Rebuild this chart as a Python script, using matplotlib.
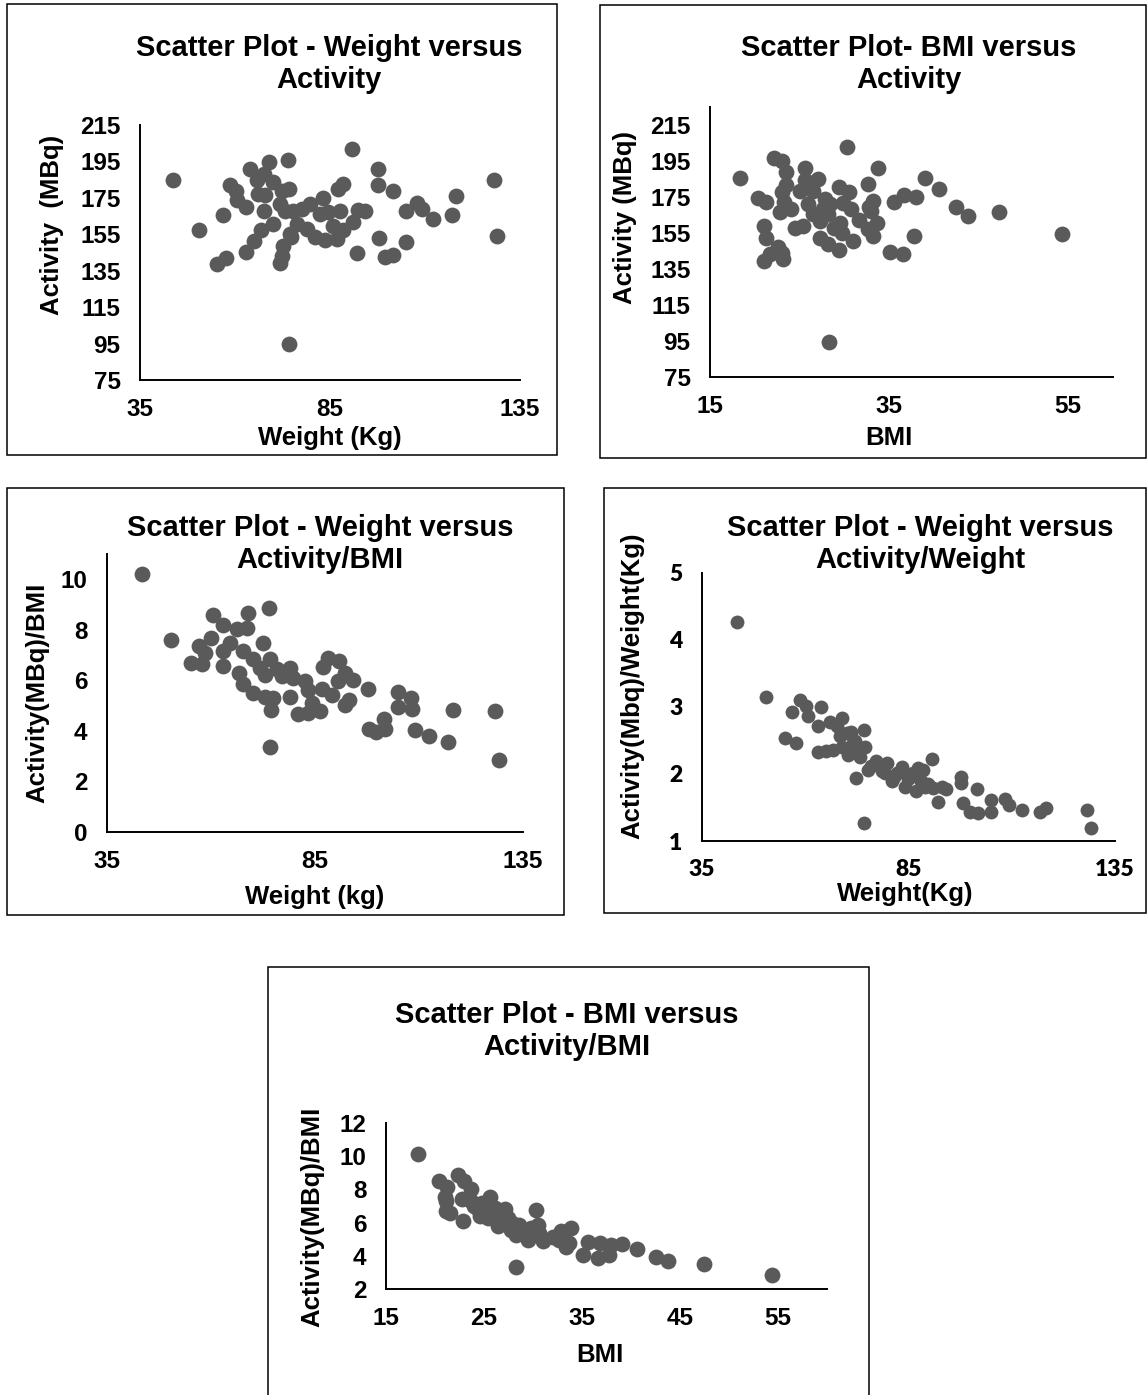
import numpy as np
import matplotlib.pyplot as plt
from matplotlib.patches import Rectangle

# panel 1: weight vs activity
weight_a = [43.6, 50.5, 55.2, 57.6, 56.9, 62.8, 65.1, 66.8, 58.7, 60.3, 60.4, 62.8, 64.0, 65.9, 67.6, 69.0, 70.0,
            66.1, 67.9, 67.5, 70.1, 72.3, 74.3, 74.0, 71.8, 73.2, 75.3, 76.2, 74.5, 74.8, 72.7, 72.3, 71.8, 74.2,
            77.5, 79.7, 78.9, 81.1, 83.7, 82.4, 83.2, 84.6, 86.8, 85.9, 87.6, 88.5, 87.2, 88.3, 90.7, 91.1, 92.4,
            94.2, 92.0, 97.7, 97.7, 101.5, 98.0, 99.5, 101.7, 105.0, 105.0, 107.8, 109.1, 112.2, 117.0, 118.2,
            128.2, 129.0]
activity_a = [185, 157.5, 138.6, 141.9, 165.8, 145.5, 151.5, 157.5, 181.8, 179, 173.9, 169.9, 190.7, 184.6, 188.3,
              194.7, 183.7, 177.2, 176.3, 167.7, 160.7, 179, 180, 196, 171.7, 168, 168, 160.7, 155, 153.3, 148.7,
              143.2, 139.5, 94.5, 168.9, 171.7, 157.9, 153.3, 151.8, 166.3, 175, 167, 152.4, 159.7, 168, 157.1,
              180, 182.4, 202, 161.7, 168.2, 168, 144.6, 190.7, 181.8, 179, 153, 142.3, 143.7, 150.9, 167.7,
              172.1, 169, 163.4, 165.8, 176, 185, 153.9]

# panel 2: BMI vs activity
bmi_b = [18.3, 20.4, 21.3, 21.0, 21.2, 21.0, 21.7, 22.6, 23.1, 23.0, 22.2, 23.0, 23.5, 23.5, 23.0, 22.8, 23.3,
         24.1, 24.5, 25.4, 25.0, 25.6, 25.6, 27.1, 26.5, 25.9, 26.5, 27.6, 27.8, 27.3, 28.2, 28.4, 27.3, 28.2,
         29.4, 28.8, 29.5, 29.7, 29.4, 30.5, 29.9, 30.8, 30.3, 31.0, 31.6, 32.6, 32.8, 33.2, 33.0, 33.6, 32.6,
         33.2, 33.8, 35.1, 36.6, 35.6, 36.7, 38.0, 37.8, 39.0, 40.6, 42.5, 43.8, 47.3, 54.3, 28.3]
activity_b = [185.5, 174.5, 172, 159, 152.5, 139.4, 143.2, 147, 140.3, 144, 196.7, 195, 188.9, 181.4, 177.7,
              166.5, 172, 168.2, 158, 159, 178.6, 191.2, 184.2, 185.1, 178.6, 171.1, 165.5, 168.2, 173.8, 161.8,
              165.5, 171.1, 152.5, 149, 145.4, 158, 160.8, 155.1, 180.4, 177.7, 171.5, 168.2, 202.6, 150.8,
              162.2, 182.3, 169.2, 172.9, 167.3, 160.6, 157.3, 153.6, 191.2, 144.6, 143.3, 172.5, 176.3, 175.1,
              153.6, 185.5, 179.2, 169.2, 164.2, 166.5, 154.3, 94.6]

# panel 3: weight vs activity/BMI
weight_c = [43.4, 50.4, 55.2, 57.8, 57.0, 58.6, 60.0, 60.6, 63.0, 63.0, 63.0, 64.6, 66.2, 68.6, 69.0, 74.0, 66.8,
            67.8, 67.8, 70.2, 70.2, 72.6, 71.8, 73.0, 74.2, 73.0, 75.0, 74.4, 75.8, 77.0, 74.2, 79.0, 79.0, 79.8,
            81.0, 82.6, 83.4, 83.4, 84.2, 86.2, 86.8, 88.2, 87.0, 89.0, 90.8, 90.6, 92.2, 94.2, 92.2, 93.2, 97.8,
            98.0, 99.6, 101.6, 101.8, 105.0, 105.0, 108.0, 108.2, 109.0, 112.4, 118.2, 117.0, 128.2, 129.2]
act_bmi_c = [10.19, 7.59, 6.69, 6.65, 7.36, 7.09, 7.69, 8.59, 8.19, 6.56, 7.16, 7.49, 8.03, 8.09, 8.67, 8.85,
             6.29, 5.87, 7.16, 6.83, 5.49, 7.49, 6.49, 6.23, 6.83, 5.36, 5.29, 4.83, 6.43, 6.16, 3.36, 6.49, 5.36,
             6.09, 4.67, 5.96, 5.63, 4.69, 5.09, 4.80, 5.65, 6.89, 6.53, 5.43, 6.76, 5.96, 6.29, 6.00, 5.03, 5.23,
             5.65, 4.09, 3.96, 4.49, 4.09, 5.52, 4.96, 5.29, 4.85, 4.03, 3.79, 4.83, 3.56, 4.80, 2.85]

# panel 4: weight vs activity/weight
weight_d = [43.5, 50.4, 55.0, 57.7, 56.9, 58.7, 60.3, 60.7, 63.9, 63.0, 63.0, 65.1, 66.7, 65.9, 69.0, 67.6, 68.4,
            70.0, 68.8, 70.4, 71.6, 74.2, 74.4, 73.2, 72.4, 75.2, 77.2, 79.7, 79.3, 80.9, 82.1, 83.5, 84.1, 85.3,
            86.9, 87.3, 88.6, 89.0, 90.8, 91.0, 93.0, 94.2, 92.2, 97.8, 97.8, 98.1, 99.9, 101.6, 101.9, 105.0,
            105.0, 108.3, 109.4, 112.4, 116.8, 118.3, 128.1, 129.1, 74.2, 72.0, 73.0, 76.0, 78.5, 81.5, 84.8,
            86.0, 88.0, 89.8, 71.0]
act_wt_d = [4.27, 3.15, 2.53, 2.46, 2.92, 3.11, 3.01, 2.87, 3.00, 2.71, 2.33, 2.35, 2.36, 2.77, 2.84, 2.71, 2.56,
            2.61, 2.41, 2.29, 2.47, 2.65, 2.41, 2.26, 1.94, 2.06, 2.19, 2.16, 2.01, 1.89, 2.01, 2.11, 1.81, 1.96,
            1.74, 2.09, 2.06, 1.81, 2.23, 1.79, 1.81, 1.78, 1.58, 1.96, 1.86, 1.57, 1.44, 1.77, 1.42, 1.61, 1.44,
            1.62, 1.54, 1.47, 1.43, 1.49, 1.46, 1.20, 1.27, 2.50, 2.35, 2.12, 2.05, 1.95, 1.92, 2.02, 1.90, 1.85,
            2.62]

# panel 5: BMI vs activity/BMI
bmi_e = [18.3, 20.4, 21.2, 21.0, 21.1, 21.1, 21.5, 22.9, 22.3, 23.0, 23.7, 22.8, 23.7, 24.4, 24.6, 25.6, 25.4,
         25.0, 26.1, 27.1, 26.6, 26.4, 27.4, 27.9, 28.3, 27.8, 29.1, 28.6, 29.5, 30.3, 30.5, 29.8, 30.6, 31.0,
         28.3, 32.0, 32.9, 32.7, 33.4, 33.7, 33.9, 33.2, 35.6, 36.8, 35.1, 36.6, 37.8, 38.0, 39.1, 40.6, 42.6,
         43.8, 47.5, 54.4, 24.0, 25.8, 26.8, 27.5, 28.8, 24.8]
act_bmi_e = [10.16, 8.53, 8.16, 7.55, 7.31, 6.69, 6.59, 6.12, 8.84, 8.53, 8.02, 7.41, 7.31, 6.80, 6.39, 7.55,
             6.29, 7.00, 6.90, 6.80, 6.29, 5.78, 6.29, 5.98, 5.27, 5.57, 5.47, 5.88, 4.96, 6.73, 5.88, 5.67, 5.37,
             4.90, 3.33, 5.16, 5.47, 4.96, 4.55, 4.76, 5.67, 5.10, 4.86, 4.76, 4.04, 3.84, 4.04, 4.65, 4.71, 4.41,
             3.90, 3.67, 3.49, 2.82, 7.0, 6.6, 6.5, 6.1, 5.6, 7.2]

W, H = 1147, 1395
DOT = '#5a5a5a'

plt.rcParams['font.family'] = 'Liberation Sans'
plt.rcParams['font.weight'] = 'bold'

fig = plt.figure(figsize=(W / 100, H / 100), dpi=100)


def box(x0, y0, x1, y1):
    fig.add_artist(Rectangle((x0 / W, 1 - y1 / H), (x1 - x0) / W, (y1 - y0) / H, transform=fig.transFigure,
                             fill=False, edgecolor='black', linewidth=1.1))


def label(x, y, s, size, rot=0, family='Liberation Sans'):
    fig.text(x / W, 1 - y / H, s, ha='center', va='center', fontsize=size, fontweight='bold',
             rotation=rot, family=family, linespacing=1.2)


def panel(left, top, right, bottom, x, y, xlim, ylim, xticks, yticks, s=130,
          tick_family='Liberation Sans', tick_weight='bold', tick_size=17.5):
    ax = fig.add_axes([left / W, 1 - bottom / H, (right - left) / W, (bottom - top) / H])
    ax.scatter(x, y, s=s, c=DOT, linewidths=0, clip_on=False, zorder=3)
    ax.set_xlim(*xlim)
    ax.set_ylim(*ylim)
    ax.set_xticks(xticks)
    ax.set_yticks(yticks)
    for side in ['top', 'right']:
        ax.spines[side].set_visible(False)
    for side in ['left', 'bottom']:
        ax.spines[side].set_linewidth(1.4)
        ax.spines[side].set_color('black')
    ax.tick_params(axis='y', length=0, pad=14, labelsize=tick_size)
    ax.tick_params(axis='x', length=0, pad=13, labelsize=tick_size)
    for t in ax.get_xticklabels() + ax.get_yticklabels():
        t.set_fontweight(tick_weight)
        t.set_family(tick_family)
    ax.patch.set_alpha(0)
    return ax


# panel 1
box(7, 4, 557, 455)
panel(140, 125, 520, 380, weight_a, activity_a, (35, 135), (75, 215), [35, 85, 135], np.arange(75, 216, 20))
label(329, 64, 'Scatter Plot - Weight versus\nActivity', 21)
label(52, 225, 'Activity  (MBq)', 18.5, rot=90)
label(330, 438, 'Weight (Kg)', 18.5)

# panel 2
box(600, 5, 1146, 458)
panel(710, 107, 1113, 377, bmi_b, activity_b, (15, 60), (75, 225), [15, 35, 55], np.arange(75, 216, 20))
label(909, 64, 'Scatter Plot- BMI versus\nActivity', 21)
label(625, 217, 'Activity (MBq)', 18.5, rot=90)
label(889, 438, 'BMI', 18.5)

# panel 3
box(7, 488, 564, 915)
panel(107, 554, 523, 832, weight_c, act_bmi_c, (35, 135), (0, 11), [35, 85, 135], np.arange(0, 11, 2))
label(320, 544, 'Scatter Plot - Weight versus\nActivity/BMI', 21)
label(37, 693, 'Activity(MBq)/BMI', 18.5, rot=90)
label(315, 897, 'Weight (kg)', 18.5)

# panel 4
box(604, 488, 1146, 913)
panel(702, 573, 1115, 841, weight_d, act_wt_d, (35, 135), (1, 5), [35, 85, 135], [1, 2, 3, 4, 5],
      s=100, tick_family='Lato', tick_weight='heavy', tick_size=16.5)
label(920, 544, 'Scatter Plot - Weight versus\nActivity/Weight', 21)
label(632, 686, 'Activity(Mbq)/Weight(Kg)', 18.5, rot=90)
label(905, 894, 'Weight(Kg)', 18.5)

# panel 5
box(268, 967, 869, 1400)
panel(386, 1123, 827, 1289, bmi_e, act_bmi_e, (15, 60), (2, 12), [15, 25, 35, 45, 55], np.arange(2, 13, 2))
label(567, 1031, 'Scatter Plot - BMI versus\nActivity/BMI', 21)
label(312, 1217, 'Activity(MBq)/BMI', 18.5, rot=90)
label(600, 1355, 'BMI', 18.5)

plt.savefig('out.png', dpi=100)
